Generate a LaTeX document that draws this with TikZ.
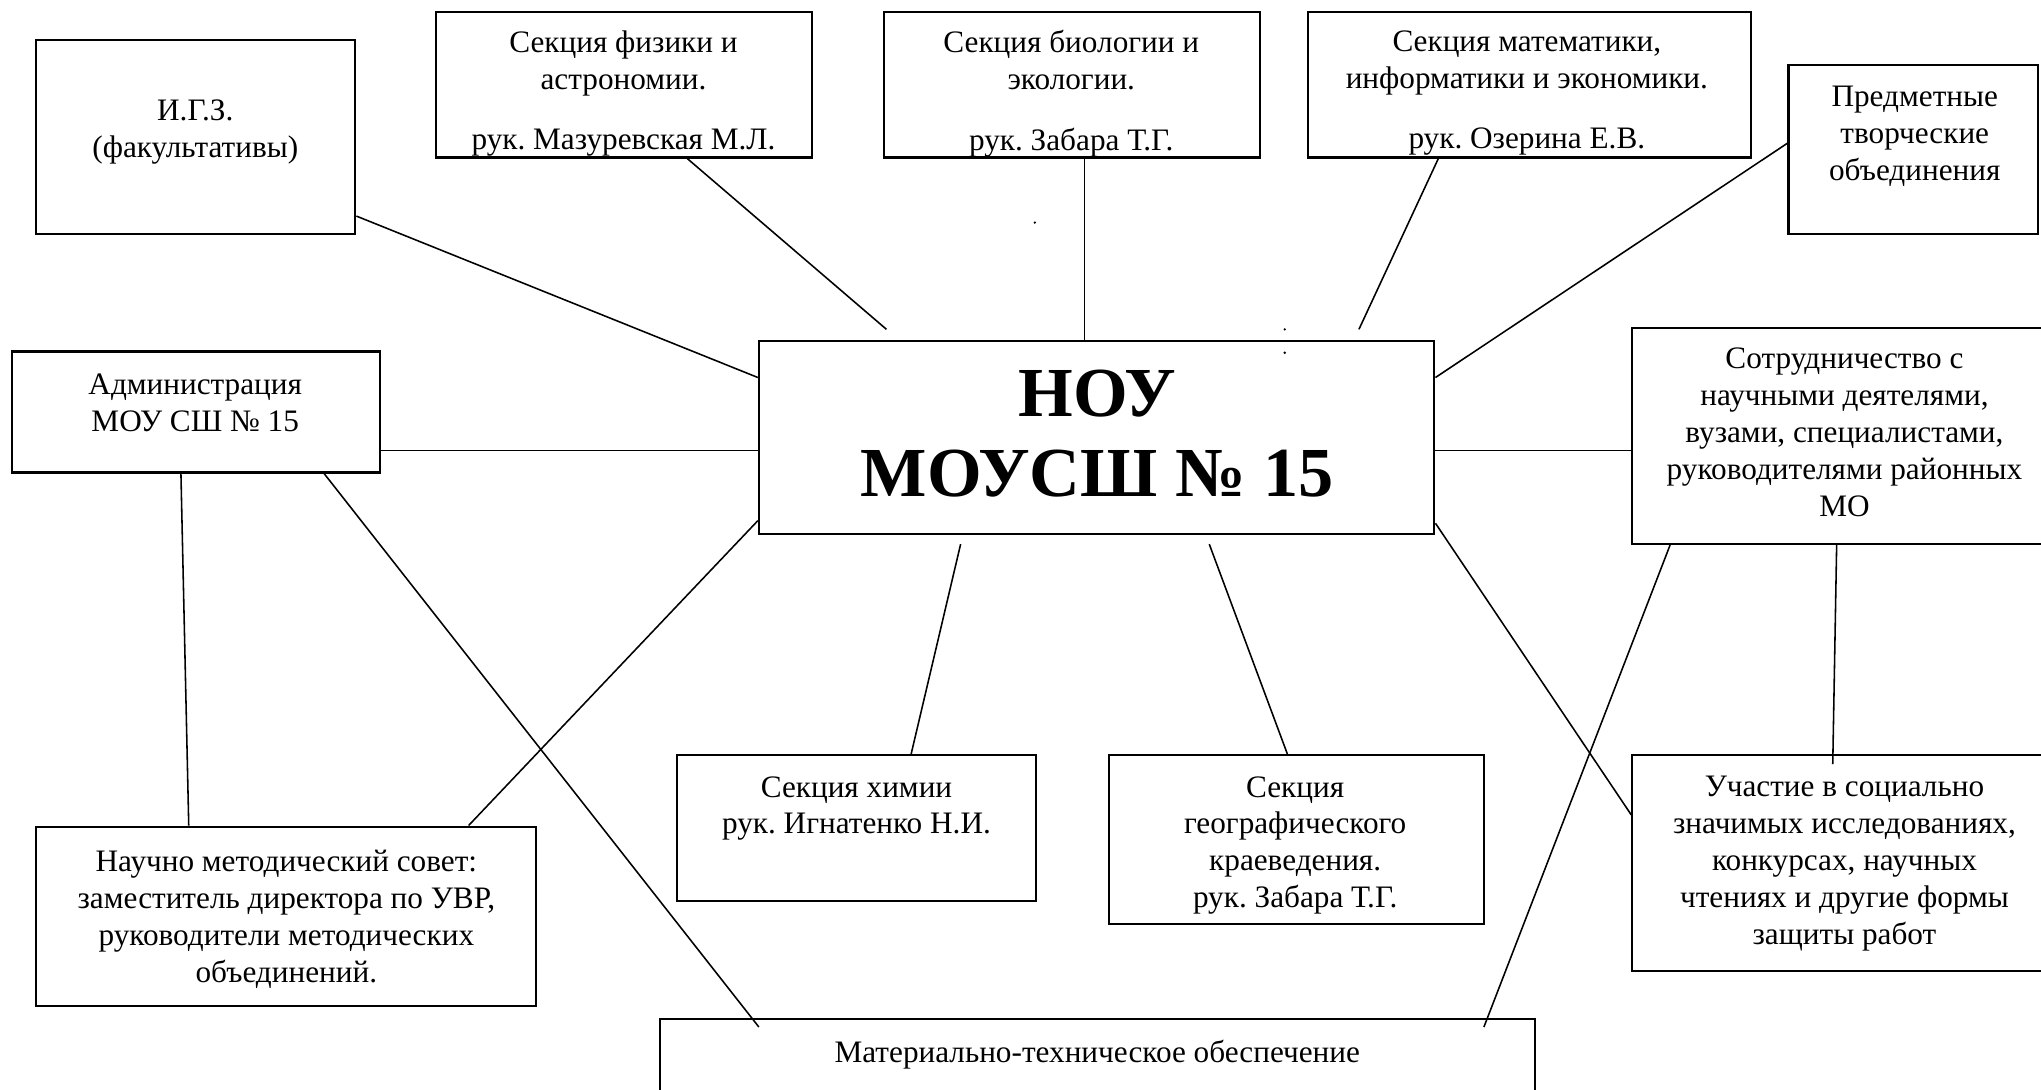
\documentclass[tikz,border=0pt]{standalone}
\usepackage{fontspec}
\setmainfont{Liberation Serif}
\usetikzlibrary{fit,calc}
\frenchspacing
\begin{document}
\begin{tikzpicture}[x=0.5pt,y=-0.5pt,
  box/.style={draw, line width=0.8pt, inner sep=0pt},
  txt/.style={align=center, inner sep=0pt, anchor=north, font=\fontsize{12}{14.2}\selectfont},
  title/.style={align=center, inner sep=0pt, anchor=north, font=\fontsize{27}{30.5}\selectfont\bfseries},
  conn/.style={line width=0.6pt}]
\useasboundingbox (0,0) rectangle (1568,837);
\fill[white] (0,0) rectangle (1568,837);

% boxes
\node[box, fit={(28,31) (273,180)}] (igz) {};
\node[box, fit={(335,9) (624,121)}] (phys) {};
\node[box, fit={(679,9) (968,121)}] (bio) {};
\node[box, fit={(1005,9) (1345,121)}] (math) {};
\node[box, fit={(1374,50) (1566,180)}] (pred) {};
\node[box, fit={(9,270) (292,363)}] (adm) {};
\node[box, fit={(583,262) (1102,410)}] (cen) {};
\node[box, fit={(1254,252) (1575,418)}] (coop) {};
\node[box, fit={(520,580) (796,692)}] (chem) {};
\node[box, fit={(852,580) (1140,710)}] (geo) {};
\node[box, fit={(1254,580) (1575,746)}] (uch) {};
\node[box, fit={(28,635) (412,773)}] (nms) {};
\node[box, fit={(507,783) (1179,860)}] (mt) {};

% texts
\node[txt] (igzt) at (150,76) {И.Г.З.\\(факультативы)};
\node[txt] (physt) at (479,23) {Секция физики и\\астрономии.\\[9pt]рук. Мазуревская М.Л.};
\node[txt] (biot) at (823,23) {Секция биологии и\\экологии.\\[9pt]рук. Забара Т.Г.};
\node[txt] (matht) at (1173,23) {Секция математики,\\информатики и экономики.\\[9pt]рук. Озерина Е.В.};
\node[txt] (predt) at (1471,66) {Предметные\\творческие\\объединения};
\node[txt] (admt) at (150,287) {Администрация\\МОУ СШ № 15};
\node[title] (cent) at (843,284) {НОУ\\МОУСШ № 15};
\node[txt] (coopt) at (1417,267) {Сотрудничество с\\научными деятелями,\\вузами, специалистами,\\руководителями районных\\МО};
\node[txt] (chemt) at (658,596) {Секция химии\\рук. Игнатенко Н.И.};
\node[txt] (geot) at (995,596) {Секция\\географического\\краеведения.\\рук. Забара Т.Г.};
\node[txt] (ucht) at (1417,596) {Участие в социально\\значимых исследованиях,\\конкурсах, научных\\чтениях и другие формы\\защиты работ};
\node[txt] (nmst) at (220,653) {Научно методический совет:\\заместитель директора по УВР,\\руководители методических\\объединений.};
\node[txt] (mtt) at (843,799) {Материально-техническое обеспечение};

% free ends
\coordinate (p2) at (681,253);
\coordinate (m2) at (1044,253);
\coordinate (c3) at (738,418);
\coordinate (c4) at (929,418);
\coordinate (a2) at (583,789);
\coordinate (k2) at (1140,789);
\coordinate (u2) at (1408,587);

% connectors
\draw[conn] (igz.east |- 0,166) -- (cen.west |- 0,290);
\draw[conn] (phys.south -| 528,0) -- (p2);
\draw[conn] (bio.south -| 833,0) -- (cen.north -| 833,0);
\draw[conn] (math.south -| 1105,0) -- (m2);
\draw[conn] (pred.west |- 0,110) -- (cen.east |- 0,290);
\draw[conn] (adm.east |- 0,346) -- (cen.west |- 0,346);
\draw[conn] (cen.east |- 0,346) -- (coop.west |- 0,346);
\draw[conn] (cen.west |- 0,400) -- (nms.north -| 360,0);
\draw[conn] (c3) -- (chem.north -| 700,0);
\draw[conn] (c4) -- (geo.north -| 989,0);
\draw[conn] (cen.east |- 0,402) -- (uch.west |- 0,626);
\draw[conn] (adm.south -| 139,0) -- (nms.north -| 145,0);
\draw[conn] (adm.south -| 249,0) -- (a2);
\draw[conn] (coop.south -| 1283,0) -- (k2);
\draw[conn] (coop.south -| 1411,0) -- (u2);

% stray dots
\fill (795,171) circle (1);
\fill (987,253) circle (1);
\fill (987,271) circle (1);
\end{tikzpicture}
\end{document}
